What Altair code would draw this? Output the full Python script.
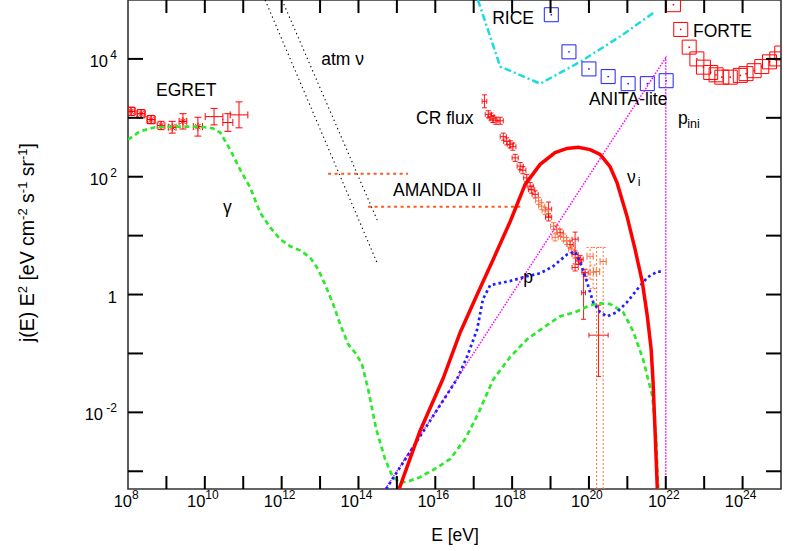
import altair as alt
import pandas as pd

# ---------------- values (log10 E [eV], log10 of j(E)E^2) ----------------
gamma_logE = [8.0, 8.31, 8.70, 9.22, 9.74, 10.0, 10.21, 10.40, 10.66, 10.92, 11.18, 11.44, 11.70, 11.96,
              12.22, 12.48, 12.74, 12.95, 13.13, 13.34, 13.52, 13.73, 13.94, 14.09, 14.25, 14.46, 14.69,
              14.88, 15.08, 15.34, 15.60, 15.99, 16.39, 16.78, 17.11, 17.51, 17.95, 18.39, 18.86, 19.25,
              19.64, 20.03, 20.24, 20.55, 20.89, 21.15, 21.41, 21.65, 21.75, 21.80]
gamma_logJ = [2.63, 2.77, 2.84, 2.85, 2.85, 2.84, 2.82, 2.75, 2.46, 2.12, 1.82, 1.39, 1.14, 0.94,
              0.82, 0.75, 0.63, 0.43, 0.17, -0.16, -0.50, -0.84, -1.01, -1.18, -1.60, -2.28, -2.79,
              -3.08, -3.20, -3.16, -3.10, -2.96, -2.79, -2.45, -2.03, -1.44, -1.06, -0.76, -0.54, -0.37,
              -0.30, -0.18, -0.15, -0.16, -0.30, -0.62, -1.10, -1.72, -2.45, -3.30]

nu_logE = [15.06, 15.60, 16.20, 16.65, 17.09, 17.51, 17.95, 18.34, 18.73, 19.12, 19.43, 19.72,
           20.03, 20.29, 20.55, 20.73, 20.99, 21.20, 21.39, 21.52, 21.62, 21.67, 21.72, 21.78]
nu_logJ = [-3.30, -2.32, -1.43, -0.64, 0.0, 0.60, 1.24, 1.87, 2.21, 2.41, 2.48, 2.50,
           2.46, 2.38, 2.17, 1.90, 1.33, 0.77, 0.21, -0.37, -0.93, -1.49, -2.29, -3.30]

p_logE = [14.72, 16.57, 16.83, 17.09, 17.24, 17.43, 17.95, 18.39, 18.73, 19.07, 19.43, 19.64,
          19.77, 19.95, 20.11, 20.29, 20.47, 20.73, 20.99, 21.26, 21.52, 21.78, 21.93]
p_logJ = [-3.30, -1.43, -1.05, -0.59, -0.08, 0.16, 0.23, 0.31, 0.36, 0.48, 0.68, 0.73,
          0.55, 0.21, -0.13, -0.30, -0.37, -0.30, -0.13, 0.09, 0.29, 0.39, 0.39]

nui_logE = [14.70, 22.0, 22.0]
nui_logJ = [-3.30, 4.02, -3.30]

rice_logE = [17.11, 17.69, 18.73, 19.77, 20.81, 21.72]
rice_logJ = [5.00, 3.87, 3.58, 3.95, 4.38, 4.80]

atm1_logE = [11.57, 14.49]
atm1_logJ = [5.00, 0.53]
atm2_logE = [12.01, 14.49]
atm2_logJ = [5.00, 1.26]

amanda_logE_lo = [13.21, 14.25]
amanda_logE_hi = [15.29, 18.21]
amanda_logJ = [2.05, 1.49]

egret_logE = [8.08, 8.34, 8.60, 8.86, 9.15, 9.43, 9.82, 10.24, 10.60, 10.89]
egret_logJ = [3.11, 3.07, 2.97, 2.87, 2.84, 2.94, 2.85, 3.02, 2.92, 3.05]
egret_errJ = [0.07, 0.07, 0.07, 0.07, 0.10, 0.13, 0.16, 0.14, 0.15, 0.22]
egret_errE = [0.10, 0.10, 0.10, 0.10, 0.10, 0.10, 0.12, 0.23, 0.13, 0.23]
egret_star_logE = [8.08, 8.34, 8.60, 8.86, 9.15, 9.43, 9.82]
egret_star_logJ = [3.11, 3.07, 2.97, 2.87, 2.84, 2.94, 2.85]
egret_box_logE = [8.08, 8.34, 8.60]
egret_box_logJ = [3.11, 3.07, 2.97]

cr_logE = [17.28, 17.38, 17.45, 17.50, 17.58, 17.69, 17.77, 17.86, 17.95, 18.02, 18.08, 18.21,
           18.28, 18.38, 18.47, 18.51, 18.60, 18.95, 18.95, 19.25, 19.51, 19.64, 19.64, 19.73,
           19.64, 19.77, 19.90, 19.86, 20.25]
cr_logJ = [3.28, 3.06, 3.02, 2.98, 2.95, 2.95, 2.68, 2.60, 2.55, 2.51, 2.32, 2.18,
           2.11, 1.98, 1.84, 1.78, 1.70, 1.45, 1.31, 1.05, 0.85, 0.94, 0.68, 0.57,
           0.46, 0.60, 0.37, 0.03, -0.69]
cr_errJ_hi = [0.11, 0.06, 0.06, 0.06, 0.06, 0.06, 0.06, 0.06, 0.06, 0.06, 0.06, 0.06,
              0.06, 0.06, 0.06, 0.06, 0.06, 0.12, 0.06, 0.06, 0.06, 0.12, 0.06, 0.06,
              0.06, 0.06, 0.06, 0.35, 0.51]
cr_errJ_lo = [0.11, 0.06, 0.06, 0.06, 0.06, 0.06, 0.06, 0.06, 0.06, 0.06, 0.06, 0.06,
              0.06, 0.06, 0.06, 0.06, 0.06, 0.12, 0.06, 0.06, 0.06, 0.26, 0.06, 0.06,
              0.06, 0.06, 0.06, 0.45, 0.70]
cr_errE = [0.06, 0.08, 0.08, 0.08, 0.08, 0.08, 0.08, 0.08, 0.08, 0.08, 0.08, 0.08,
           0.08, 0.08, 0.08, 0.08, 0.08, 0.08, 0.08, 0.08, 0.08, 0.08, 0.08, 0.08,
           0.08, 0.08, 0.08, 0.05, 0.25]

hires_logE = [18.69, 18.77, 18.86, 19.08, 19.16, 19.12, 19.34, 19.42, 19.55]
hires_logJ = [1.59, 1.50, 1.42, 1.16, 1.11, 0.97, 0.97, 0.91, 0.77]
hires_errJ = [0.06, 0.06, 0.06, 0.06, 0.06, 0.06, 0.06, 0.06, 0.06]
hires_errE = [0.08, 0.08, 0.08, 0.08, 0.08, 0.08, 0.08, 0.08, 0.08]

auger_logE = [20.03, 20.11, 20.20, 20.37]
auger_logJ = [0.65, 0.38, 0.39, 0.56]
auger_hi = [0.80, 0.50, 0.80, 0.80]
auger_lo = [0.26, 0.10, -3.30, -3.30]
auger_errE = [0.08, 0.08, 0.08, 0.08]

anita_logE = [19.02, 19.48, 20.00, 20.50, 21.02, 21.52, 22.01]
anita_logJ = [4.75, 4.12, 3.83, 3.70, 3.58, 3.58, 3.63]

forte_logE = [22.20, 22.39, 22.61, 22.81, 22.98, 23.17, 23.31, 23.46, 23.68, 23.94, 24.09, 24.30,
              24.50, 24.70, 24.89, 25.02]
forte_logJ = [4.92, 4.50, 4.20, 4.00, 3.86, 3.77, 3.73, 3.69, 3.69, 3.72, 3.75, 3.80,
              3.87, 3.95, 4.00, 4.10]

label_text = ["EGRET", "atm ν", "CR flux", "AMANDA II", "RICE", "FORTE", "ANITA-lite", "p", "ν", "p", "γ"]
label_logE = [8.73, 13.03, 15.50, 14.90, 17.48, 22.71, 20.00, 22.32, 20.99, 18.29, 10.47]
label_logJ = [3.37, 3.89, 2.89, 1.67, 4.60, 4.37, 3.21, 2.89, 1.90, 0.19, 1.38]
sub_text = ["ini", "i"]
sub_logE = [22.56, 21.27]
sub_logJ = [2.83, 1.84]

xtick_exp = list(range(9, 25))
ytick_exp = list(range(-3, 5))
xlab_exp = [8, 10, 12, 14, 16, 18, 20, 22, 24]
ylab_exp = [-2, 0, 2, 4]

ytitle_parts = [("j(E) E", False), ("2", True), (" [eV cm", False), ("-2", True), (" s", False),
                ("-1", True), (" sr", False), ("-1", True), ("]", False)]

# ---------------- chart ----------------
FONT = "Liberation Sans"
W, H = 653, 489
LX0, LX1 = 8.0, 25.0           # log10 of the x domain
LY0, LY1 = -3.30103, 5.0       # log10 of the y domain
xs = alt.Scale(type="log", domain=[10 ** LX0, 10 ** LX1], nice=False)
ys = alt.Scale(type="log", domain=[10 ** LY0, 10 ** LY1], nice=False)


def X(f):
    return alt.X(f"{f}:Q", scale=xs, axis=None)


def Y(f):
    return alt.Y(f"{f}:Q", scale=ys, axis=None)


def p10(v):
    return [10 ** a for a in v]


def line(le, lj, color, width, dash=None):
    df = pd.DataFrame({"E": p10(le), "J": p10(lj), "i": list(range(len(le)))})
    mk = dict(color=color, strokeWidth=width, clip=True, strokeCap="butt")
    if dash:
        mk["strokeDash"] = dash
    return alt.Chart(df).mark_line(**mk).encode(x=X("E"), y=Y("J"), order="i:Q")


def points(le, lj, shape, size, color, filled=False, sw=1.0):
    df = pd.DataFrame({"E": p10(le), "J": p10(lj)})
    return alt.Chart(df).mark_point(shape=shape, size=size, color=color, filled=filled,
                                    strokeWidth=sw, opacity=1, clip=True).encode(x=X("E"), y=Y("J"))


def errbars(le, lj, elo, ehi, ee, color, ydash=None, cap=7, opacity=1.0):
    E = p10(le)
    J = p10(lj)
    Elo = [10 ** (a - e) for a, e in zip(le, ee)]
    Ehi = [10 ** (a + e) for a, e in zip(le, ee)]
    Jlo = [10 ** (a - e) for a, e in zip(lj, elo)]
    Jhi = [10 ** (a + e) for a, e in zip(lj, ehi)]
    df = pd.DataFrame({"E": E, "J": J, "Elo": Elo, "Ehi": Ehi, "Jlo": Jlo, "Jhi": Jhi})
    vk = dict(color=color, strokeWidth=1, clip=True, opacity=opacity)
    if ydash:
        vk["strokeDash"] = ydash
    vr = alt.Chart(df).mark_rule(**vk).encode(x=X("E"), y=Y("Jlo"), y2=alt.Y2("Jhi"))
    hr = alt.Chart(df).mark_rule(color=color, strokeWidth=1, clip=True, opacity=opacity).encode(
        x=X("Elo"), x2=alt.X2("Ehi"), y=Y("J"))
    ycap_df = pd.DataFrame({"E": E + E, "J": Jlo + Jhi})
    xcap_df = pd.DataFrame({"E": Elo + Ehi, "J": J + J})
    yk = dict(shape="M-1,0L1,0", size=cap * cap, color=color, filled=False, strokeWidth=1,
              opacity=opacity, clip=True)
    if ydash:
        yk["strokeDash"] = ydash
    yc = alt.Chart(ycap_df).mark_point(**yk).encode(x=X("E"), y=Y("J"))
    xc = alt.Chart(xcap_df).mark_point(shape="M0,-1L0,1", size=cap * cap, color=color, filled=False,
                                       strokeWidth=1, opacity=opacity, clip=True).encode(x=X("E"), y=Y("J"))
    return [vr, hr, yc, xc]


RED = "#ff0000"
ORANGE = "#ff6a33"
AMANDA = "#ff5a1e"

layers = []

# atmospheric neutrinos and AMANDA
layers.append(line(atm1_logE, atm1_logJ, "black", 1.1, [1.3, 3.2]))
layers.append(line(atm2_logE, atm2_logJ, "black", 1.1, [1.3, 3.2]))
am = pd.DataFrame({"Elo": p10(amanda_logE_lo), "Ehi": p10(amanda_logE_hi), "J": p10(amanda_logJ)})
layers.append(alt.Chart(am).mark_rule(color=AMANDA, strokeWidth=2, strokeDash=[3, 3.5]).encode(
    x=X("Elo"), x2=alt.X2("Ehi"), y=Y("J")))

# RICE limit
layers.append(line(rice_logE, rice_logJ, "#1adcdc", 2.5, [7, 3, 2, 3]))

# data points
layers += errbars(egret_logE, egret_logJ, egret_errJ, egret_errJ, egret_errE, RED, cap=7)
layers.append(points(egret_star_logE, egret_star_logJ,
                     "M-1,0L1,0M0,-1L0,1M-0.7,-0.7L0.7,0.7M-0.7,0.7L0.7,-0.7", 64, RED))
layers.append(points(egret_box_logE, egret_box_logJ, "square", 64, RED))
layers += errbars(cr_logE, cr_logJ, cr_errJ_lo, cr_errJ_hi, cr_errE, RED, cap=5, opacity=0.9)
layers += errbars(hires_logE, hires_logJ, hires_errJ, hires_errJ, hires_errE, ORANGE, cap=5, opacity=0.9)
au_lo = [a - b for a, b in zip(auger_logJ, auger_lo)]
au_hi = [b - a for a, b in zip(auger_logJ, auger_hi)]
layers += errbars(auger_logE, auger_logJ, au_lo, au_hi, auger_errE, ORANGE, ydash=[2, 2], cap=7)

layers.append(points(anita_logE, anita_logJ, "square", 196, "#1f1fff"))
layers.append(points(anita_logE, anita_logJ, "circle", 3, "#1f1fff", filled=True))
layers.append(points(forte_logE, forte_logJ, "square", 196, RED))
layers.append(points(forte_logE, forte_logJ, "circle", 3, RED, filled=True))

# model curves
layers.append(line(gamma_logE, gamma_logJ, "#2ee82e", 2.7, [5, 3.5]))
layers.append(line(nui_logE, nui_logJ, "#ff00ff", 1.5, [1.5, 1.5]))
layers.append(line(p_logE, p_logJ, "#1f1fff", 2.7, [2.7, 3]))
layers.append(line(nu_logE, nu_logJ, RED, 3.5))

# annotations
lab = pd.DataFrame({"E": p10(label_logE), "J": p10(label_logJ), "t": label_text})
layers.append(alt.Chart(lab).mark_text(align="left", baseline="alphabetic", fontSize=17.5, font=FONT,
                                       color="black").encode(x=X("E"), y=Y("J"), text="t:N"))
sub = pd.DataFrame({"E": p10(sub_logE), "J": p10(sub_logJ), "t": sub_text})
layers.append(alt.Chart(sub).mark_text(align="left", baseline="alphabetic", fontSize=12.5, font=FONT,
                                       color="black").encode(x=X("E"), y=Y("J"), text="t:N"))

# x tick labels
for group, dx in (([e for e in xlab_exp if e < 10], 4), ([e for e in xlab_exp if e >= 10], 0.5)):
    d = pd.DataFrame({"E": [10.0 ** e for e in group], "t": [str(e) for e in group]})
    layers.append(alt.Chart(d).mark_text(text="10", align="right", baseline="alphabetic", dx=dx,
                                         fontSize=16.5, font=FONT, color="black").encode(
        x=X("E"), y=alt.value(H + 18)))
    layers.append(alt.Chart(d).mark_text(align="left", baseline="alphabetic", dx=dx, fontSize=12,
                                         font=FONT, color="black").encode(
        x=X("E"), y=alt.value(H + 10), text="t:N"))

# y tick labels
for group, bx in (([e for e in ylab_exp if e > 0], -20), ([e for e in ylab_exp if e < 0], -25)):
    d = pd.DataFrame({"J": [10.0 ** e for e in group], "t": [str(e) for e in group]})
    layers.append(alt.Chart(d).mark_text(text="10", align="right", baseline="alphabetic", dy=8,
                                         fontSize=16.5, font=FONT, color="black").encode(
        x=alt.value(bx), y=Y("J")))
    layers.append(alt.Chart(d).mark_text(align="right", baseline="alphabetic", dy=0, fontSize=12,
                                         font=FONT, color="black").encode(
        x=alt.value(-11), y=Y("J"), text="t:N"))
d1 = pd.DataFrame({"J": [10.0 ** e for e in ylab_exp if e == 0]})
layers.append(alt.Chart(d1).mark_text(text="1", align="right", baseline="alphabetic", dy=8,
                                      fontSize=16.5, font=FONT, color="black").encode(
    x=alt.value(-11), y=Y("J")))

# axis titles
one = pd.DataFrame({"a": [0]})
layers.append(alt.Chart(one).mark_text(text="E [eV]", align="center", baseline="alphabetic",
                                       fontSize=17.5, font=FONT, color="black").encode(
    x=alt.value(455 - 128), y=alt.value(541)))

# y title, written piece by piece so the exponents are raised
ADV = {'j': .222, '(': .333, 'E': .667, ')': .333, ' ': .278, '[': .278, 'e': .556, 'V': .667,
       'c': .5, 'm': .833, 's': .5, 'r': .333, ']': .278, '-': .333, '1': .556, '2': .556}
FT, FS = 19.5, 13
pos = 342.0
for txt, sup in ytitle_parts:
    fs = FS if sup else FT
    lead = len(txt) - len(txt.lstrip(" "))
    pos -= lead * ADV[' '] * fs
    body = txt.strip(" ")
    layers.append(alt.Chart(one).mark_text(text=body, align="left", baseline="alphabetic", angle=270,
                                           fontSize=fs, font=FONT, color="black").encode(
        x=alt.value((27 if sup else 34) - 128), y=alt.value(pos)))
    pos -= sum(ADV[c] for c in body) * fs

# inward tick marks on all four sides, drawn last (tick length converted to decades of each scale)
TXL = 13 * (LY1 - LY0) / H      # 13 px expressed in decades of y
TYL = 15 * (LX1 - LX0) / W      # 15 px expressed in decades of x
xtb = pd.DataFrame({"E": [10.0 ** k for k in xtick_exp], "b0": 10 ** LY0, "b1": 10 ** (LY0 + TXL)})
xtt = pd.DataFrame({"E": [10.0 ** k for k in xtick_exp], "b0": 10 ** (LY1 - TXL), "b1": 10 ** LY1})
ytl = pd.DataFrame({"J": [10.0 ** k for k in ytick_exp], "l0": 10 ** LX0, "l1": 10 ** (LX0 + TYL)})
ytr = pd.DataFrame({"J": [10.0 ** k for k in ytick_exp], "l0": 10 ** (LX1 - TYL), "l1": 10 ** LX1})
for d in (xtb, xtt):
    layers.append(alt.Chart(d).mark_rule(color="#000000", strokeWidth=2).encode(
        x=X("E"), y=Y("b0"), y2=alt.Y2("b1")))
for d in (ytl, ytr):
    layers.append(alt.Chart(d).mark_rule(color="#000000", strokeWidth=2).encode(
        y=Y("J"), x=X("l0"), x2=alt.X2("l1")))

chart = alt.layer(*layers).properties(
    width=W, height=H,
    padding={"left": 128, "top": 0, "right": 5, "bottom": 62},
    autosize="none",
    background="white",
).configure_view(stroke="#333333", strokeWidth=1.6)

chart.save("out.html", embed_options={"renderer": "svg", "actions": False})
